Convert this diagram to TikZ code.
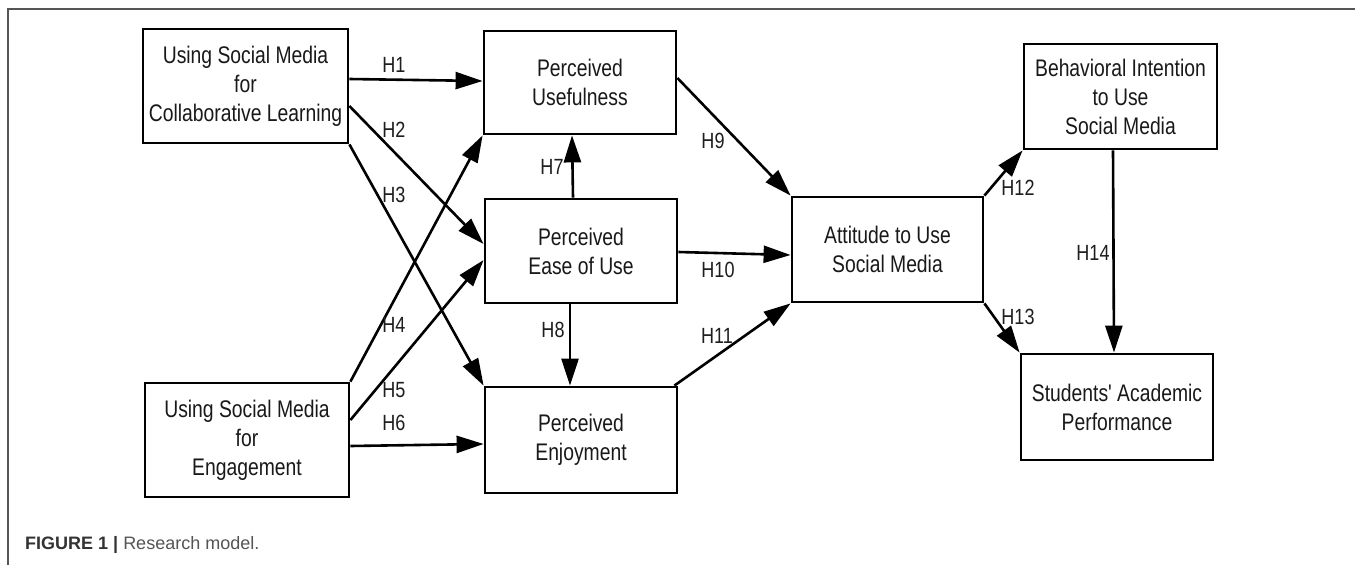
\documentclass[tikz,border=0pt]{standalone}
\usepackage{fontspec}
\setmainfont{Liberation Sans}
\newfontfamily\narrowfont[FakeStretch=0.805]{Liberation Sans}
\newfontfamily\labfont[FakeStretch=0.82]{Liberation Sans}
\usetikzlibrary{arrows.meta}
\definecolor{capA}{HTML}{333333}
\definecolor{capB}{HTML}{555555}
\definecolor{framec}{HTML}{555555}
\definecolor{labc}{HTML}{1E1E1E}
\begin{document}
\begin{tikzpicture}[x=1pt,y=-1pt,
  box/.style={draw=black,line width=2.8pt,rectangle,align=center,inner sep=0pt,
    font=\narrowfont\fontsize{24}{29}\selectfont,text=black!90},
  conn/.style={line width=2.6pt,-{Triangle[length=27pt,width=17pt]}},
  hlab/.style={font=\labfont\fontsize{22}{24}\selectfont,text=labc,inner sep=0pt}]
\useasboundingbox (0,0) rectangle (1355,565);
\fill[white] (0,0) rectangle (1355,565);
\draw[framec,line width=1.5pt] (8,565) -- (8,9) -- (1355,9);

\node[box,minimum width=205pt,minimum height=114pt] (A) at (245.5,86) {Using Social Media\\for\\Collaborative Learning};
\node[box,minimum width=204pt,minimum height=114pt] (B) at (247,440) {Using Social Media\\for\\Engagement};
\node[box,minimum width=192pt,minimum height=103pt] (PU) at (580,82.5) {Perceived\\Usefulness};
\node[box,minimum width=192pt,minimum height=104pt] (PEOU) at (581,251) {Perceived\\Ease of Use};
\node[box,minimum width=192pt,minimum height=106pt] (PE) at (581,440) {Perceived\\Enjoyment};
\node[box,minimum width=191pt,minimum height=105pt] (AT) at (887.5,249.5) {Attitude to Use\\Social Media};
\node[box,minimum width=193pt,minimum height=105pt] (BI) at (1120.5,96.5) {Behavioral Intention\\to Use\\Social Media};
\node[box,minimum width=192pt,minimum height=106pt] (SAP) at (1117,407) {Students' Academic\\Performance};

\draw[conn] ([yshift=7pt]A.east) -- ([yshift=1.5pt]PU.west);
\draw[conn] ([yshift=-20pt]A.east) -- ([yshift=7pt]PEOU.west);
\draw[conn] (A.south east) -- (PE.north west);
\draw[conn] (B.north east) -- (PU.south west);
\draw[conn] ([yshift=20pt]B.east) -- ([yshift=-9pt]PEOU.west);
\draw[conn] ([yshift=-6pt]B.east) -- ([yshift=-4pt]PE.west);
\draw[conn] ([xshift=-8pt]PEOU.north) -- ([xshift=-8pt]PU.south);
\draw[conn] ([xshift=-11pt]PEOU.south) -- ([xshift=-11pt]PE.north);
\draw[conn] ([yshift=4.5pt]PU.east) -- (AT.north west);
\draw[conn] ([yshift=-1pt]PEOU.east) -- ([yshift=-5.5pt]AT.west);
\draw[conn] ([xshift=-4pt]PE.north east) -- (AT.south west);
\draw[conn] (AT.north east) -- (BI.south west);
\draw[conn] (AT.south east) -- (SAP.north west);
\draw[conn] ([xshift=-7.5pt]BI.south) -- ([xshift=-3pt]SAP.north);

\node[hlab] (h1) at (394,65) {H1};
\node[hlab] (h2) at (394,130) {H2};
\node[hlab] (h3) at (394,195) {H3};
\node[hlab] (h4) at (394,325) {H4};
\node[hlab] (h5) at (394,390) {H5};
\node[hlab] (h6) at (394,423) {H6};
\node[hlab] (h7) at (552,167) {H7};
\node[hlab] (h8) at (553,330) {H8};
\node[hlab] (h9) at (713,141) {H9};
\node[hlab] (h10) at (718,270) {H10};
\node[hlab] (h11) at (717,336) {H11};
\node[hlab] (h12) at (1018,188) {H12};
\node[hlab] (h13) at (1018,317) {H13};
\node[hlab] (h14) at (1093,253) {H14};

\node[anchor=base west,inner sep=0pt,font=\fontsize{18}{22}\selectfont] (cap) at (25,549)
  {\textcolor{capA}{\bfseries FIGURE 1 |} \textcolor{capB}{Research model.}};
\end{tikzpicture}
\end{document}
